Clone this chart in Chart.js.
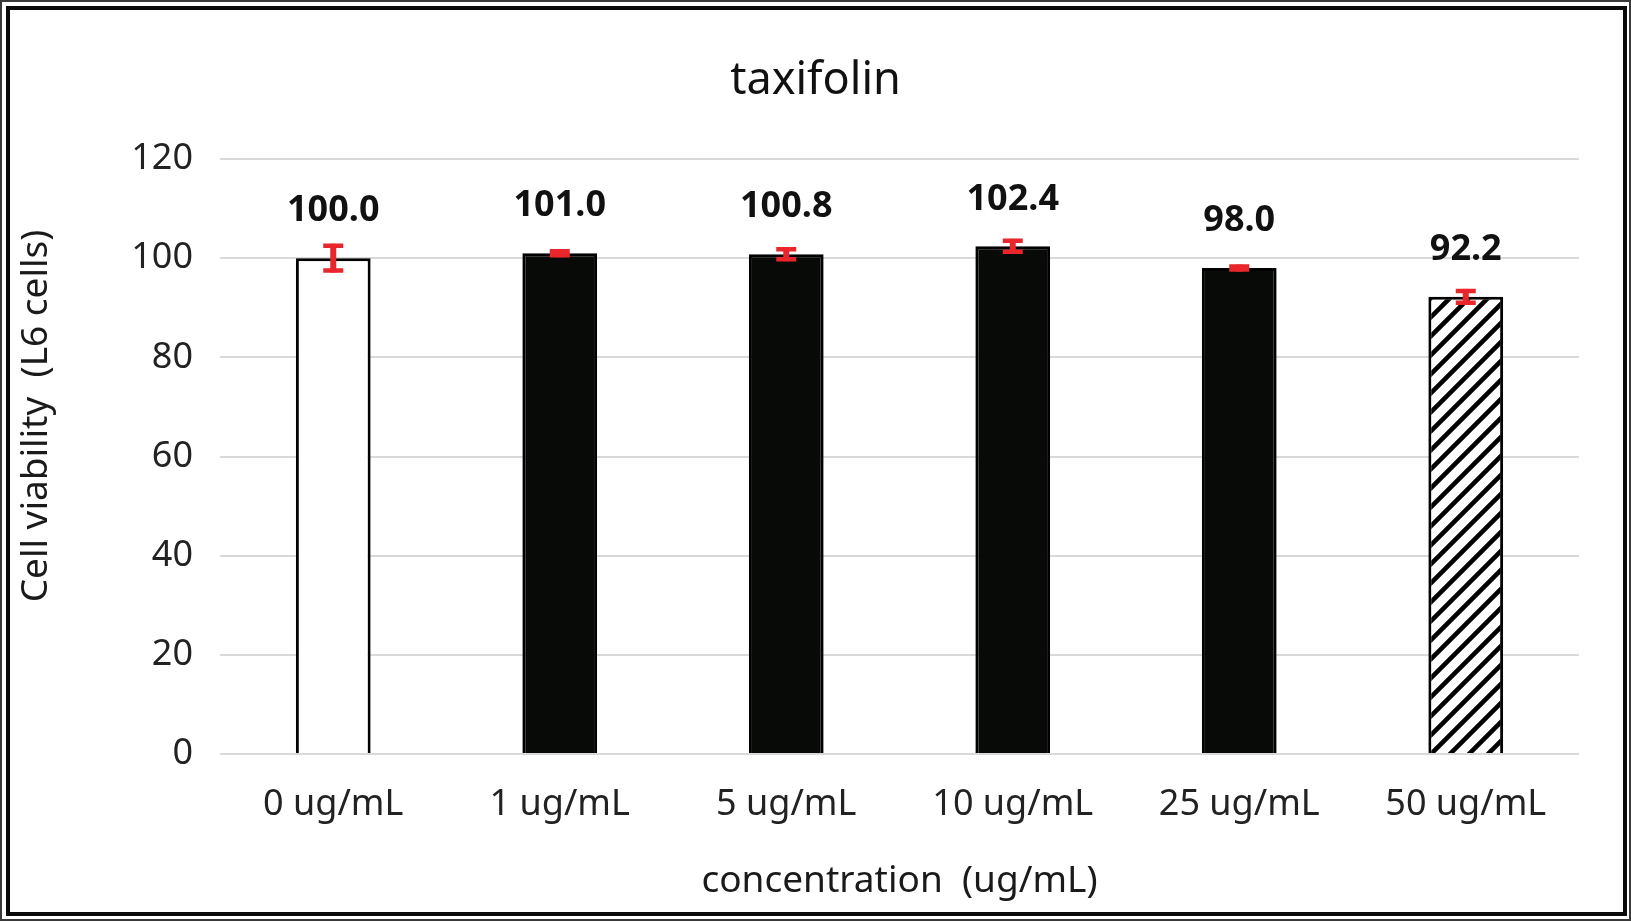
<!DOCTYPE html>
<html>
<head>
<meta charset="utf-8">
<script src="https://cdn.jsdelivr.net/npm/chart.js@4.4.0/dist/chart.umd.min.js"></script>
<style>
  html, body { margin: 0; padding: 0; background: #fff; overflow: hidden; }
  .wrap { position: absolute; left: 0; top: 0; width: 1631px; height: 922px; }
  .frame-outer { position: absolute; left: 0; top: 0; width: 1627px; height: 917px; border: 2px solid #3a3a3a; pointer-events: none; }
  .frame-inner { position: absolute; left: 6px; top: 6px; width: 1613px; height: 902px; border: 4px solid #0a0a0a; pointer-events: none; }
</style>
</head>
<body>
<div class="wrap"><canvas id="chart"></canvas></div>
<div class="frame-outer"></div>
<div class="frame-inner"></div>
<script>
const categories = ["0 ug/mL", "1 ug/mL", "5 ug/mL", "10 ug/mL", "25 ug/mL", "50 ug/mL"];
const viability = [100.0, 101.0, 100.8, 102.4, 98.0, 92.2];
const errors = [2.9, 0.8, 1.4, 1.5, 0.7, 1.6];
const y_ticks = [0, 20, 40, 60, 80, 100, 120];

const FONT = "'Noto Sans', 'Open Sans', sans-serif";

// hatched fill for the last bar
function makeHatch() {
  const s = 19;
  const c = document.createElement("canvas");
  c.width = s;
  c.height = s;
  const g = c.getContext("2d");
  g.fillStyle = "#fff";
  g.fillRect(0, 0, s, s);
  g.strokeStyle = "#000";
  g.lineWidth = 4.6;
  g.beginPath();
  g.moveTo(-2, 2); g.lineTo(2, -2);
  g.moveTo(0, s); g.lineTo(s, 0);
  g.moveTo(s - 2, s + 2); g.lineTo(s + 2, s - 2);
  g.stroke();
  return g.createPattern(c, "repeat");
}

const barColors = ["#ffffff", "#080a08", "#080a08", "#080a08", "#080a08", makeHatch()];

const extrasPlugin = {
  id: "extras",
  afterDatasetsDraw(chart) {
    const ctx = chart.ctx;
    const y = chart.scales.y;
    const meta = chart.getDatasetMeta(0);
    ctx.save();
    // error bars
    ctx.strokeStyle = "#e8262b";
    meta.data.forEach((bar, i) => {
      const top = y.getPixelForValue(viability[i] + errors[i]);
      const bot = y.getPixelForValue(viability[i] - errors[i]);
      ctx.lineWidth = 6;
      ctx.beginPath();
      ctx.moveTo(bar.x, top);
      ctx.lineTo(bar.x, bot);
      ctx.stroke();
      ctx.lineWidth = 4.5;
      ctx.beginPath();
      ctx.moveTo(bar.x - 10, top + 2);
      ctx.lineTo(bar.x + 10, top + 2);
      ctx.moveTo(bar.x - 10, bot - 2);
      ctx.lineTo(bar.x + 10, bot - 2);
      ctx.stroke();
    });
    // value labels
    ctx.fillStyle = "#111";
    ctx.font = "bold 36px " + FONT;
    ctx.textAlign = "center";
    ctx.textBaseline = "middle";
    meta.data.forEach((bar, i) => {
      ctx.fillText(viability[i].toFixed(1), bar.x, y.getPixelForValue(viability[i]) - 47);
    });
    // y axis title
    ctx.fillStyle = "#1a1a1a";
    ctx.font = "37px " + FONT;
    ctx.translate(36, 416);
    ctx.rotate(-Math.PI / 2);
    ctx.fillText("Cell viability  (L6 cells)", 0, 0);
    ctx.restore();
  },
};

new Chart(document.getElementById("chart"), {
  type: "bar",
  data: {
    labels: categories,
    datasets: [
      {
        data: viability,
        backgroundColor: barColors,
        borderColor: "#000",
        borderWidth: 3,
        barPercentage: 0.33,
        categoryPercentage: 1,
      },
    ],
  },
  options: {
    responsive: true,
    maintainAspectRatio: false,
    animation: false,
    layout: { padding: { left: 52, right: 52, top: 0, bottom: 0 } },
    plugins: {
      legend: { display: false },
      tooltip: { enabled: false },
      title: {
        display: true,
        text: "taxifolin",
        color: "#111",
        font: { family: FONT, size: 45, weight: "normal" },
        padding: { top: 54, bottom: 51 },
      },
    },
    scales: {
      x: {
        grid: { display: false, drawTicks: false },
        border: { display: false },
        ticks: { color: "#222", font: { family: FONT, size: 36 }, padding: 29 },
        title: {
          display: true,
          text: "concentration  (ug/mL)",
          color: "#1a1a1a",
          font: { family: FONT, size: 37 },
          padding: { top: 0, bottom: 18 },
        },
        afterFit(scale) { scale.height = 168; },
      },
      y: {
        min: 0,
        max: 120,
        afterBuildTicks(scale) { scale.ticks = y_ticks.map((v) => ({ value: v })); },
        grid: { color: "#d9d9d9", lineWidth: 2, drawTicks: false },
        border: { display: false },
        ticks: { color: "#222", font: { family: FONT, size: 36 }, padding: 27 },
        afterFit(scale) { scale.width = 168; },
      },
    },
  },
  plugins: [extrasPlugin],
});
</script>
</body>
</html>
